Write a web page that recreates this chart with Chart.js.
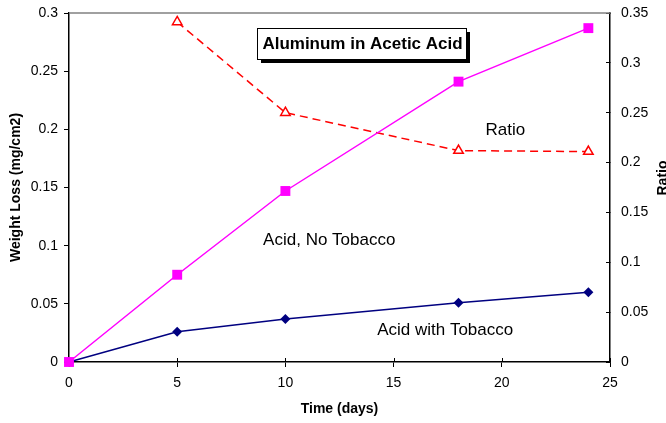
<!DOCTYPE html>
<html>
<head>
<meta charset="utf-8">
<script src="https://cdn.jsdelivr.net/npm/chart.js@4/dist/chart.umd.min.js"></script>
<style>
  html, body { margin: 0; padding: 0; background: #fff; }
  #wrap { width: 666px; height: 423px; }
</style>
</head>
<body>
<div id="wrap"><canvas id="chart" width="666" height="423"></canvas></div>
<script>
const days = [0, 5, 10, 18, 24];
const noTobacco = [0, 0.075, 0.147, 0.241, 0.287];
const withTobacco = [0, 0.026, 0.037, 0.051, 0.060];
const ratio = [null, 0.341, 0.250, 0.212, 0.211];

const chartTitle = 'Aluminum in Acetic Acid';
const ratioAxisTitle = 'Ratio';
// series labels written inside the plot: [text, day, weight loss] (left edge of text)
const seriesNotes = [
    ['Ratio', 19.25, 0.1994],
    ['Acid, No Tobacco', 8.97, 0.1049],
    ['Acid with Tobacco', 14.24, 0.0275]
];

const FONT = "'Liberation Sans', Arial, sans-serif";

function toPoints(values) {
    return days.map((d, i) => ({ x: d, y: values[i] })).filter(p => p.y !== null);
}

const fmt = v => String(+v.toFixed(2));

// fixed box sizes so the plot area sits where the original one does
function fixBox(size) {
    return scale => {
        if (scale.isHorizontal()) scale.height = size;
        else scale.width = size;
        scale.paddingTop = 0;
        scale.paddingBottom = 0;
        scale.paddingLeft = 0;
        scale.paddingRight = 0;
    };
}

const decorations = {
    id: 'decorations',
    beforeDatasetsDraw(chart) {
        const { ctx, chartArea } = chart;
        const x = chart.scales.x;
        ctx.save();
        // grey frame line on top of the plot
        ctx.strokeStyle = '#808080';
        ctx.lineWidth = 1.5;
        ctx.beginPath();
        ctx.moveTo(chartArea.left, chartArea.top);
        ctx.lineTo(chartArea.right, chartArea.top);
        ctx.stroke();
        // x ticks cross the axis: inner half
        ctx.strokeStyle = '#000';
        ctx.lineWidth = 1;
        x.ticks.forEach(t => {
            const px = Math.round(x.getPixelForValue(t.value)) + 0.5;
            ctx.beginPath();
            ctx.moveTo(px, chartArea.bottom);
            ctx.lineTo(px, chartArea.bottom - 4);
            ctx.stroke();
        });
        ctx.restore();
    },
    afterDraw(chart) {
        const { ctx } = chart;
        const x = chart.scales.x;
        const y = chart.scales.y;
        ctx.save();

        // boxed title with drop shadow
        const bx = 257, by = 28, bw = 209, bh = 31;
        ctx.fillStyle = '#000';
        ctx.fillRect(bx + 4, by + 4, bw, bh);
        ctx.fillStyle = '#fff';
        ctx.fillRect(bx, by, bw, bh);
        ctx.strokeStyle = '#000';
        ctx.lineWidth = 1;
        ctx.strokeRect(bx + 0.5, by + 0.5, bw, bh);
        ctx.fillStyle = '#000';
        ctx.font = 'bold 17px ' + FONT;
        ctx.textAlign = 'center';
        ctx.textBaseline = 'middle';
        ctx.fillText(chartTitle, bx + bw / 2 + 1, by + bh / 2 + 1);

        ctx.font = '17px ' + FONT;
        ctx.textAlign = 'left';
        seriesNotes.forEach(n => {
            ctx.fillText(n[0], x.getPixelForValue(n[1]), y.getPixelForValue(n[2]));
        });

        // right axis title, clipped at the edge like the original
        ctx.translate(663, 178);
        ctx.rotate(-Math.PI / 2);
        ctx.font = 'bold 14px ' + FONT;
        ctx.textAlign = 'center';
        ctx.fillText(ratioAxisTitle, 0, 0);
        ctx.restore();
    }
};

new Chart(document.getElementById('chart'), {
    type: 'line',
    data: {
        datasets: [
            {
                label: 'Acid, No Tobacco',
                data: toPoints(noTobacco),
                borderColor: '#FF00FF',
                backgroundColor: '#FF00FF',
                borderWidth: 1.5,
                pointStyle: 'rect',
                pointRadius: 7,
                pointBorderWidth: 0,
                clip: false,
                yAxisID: 'y'
            },
            {
                label: 'Acid with Tobacco',
                data: toPoints(withTobacco),
                borderColor: '#000080',
                backgroundColor: '#000080',
                borderWidth: 1.5,
                pointStyle: 'rectRot',
                pointRadius: 5,
                pointBorderWidth: 0,
                clip: false,
                yAxisID: 'y'
            },
            {
                label: 'Ratio',
                data: toPoints(ratio),
                borderColor: '#FF0000',
                backgroundColor: '#FFFFFF',
                borderWidth: 1.5,
                borderDash: [8, 5],
                pointStyle: 'triangle',
                pointRadius: 5.5,
                pointBorderWidth: 1.5,
                clip: false,
                yAxisID: 'y1'
            }
        ]
    },
    options: {
        responsive: false,
        animation: false,
        layout: { padding: { top: 13, left: 0, right: 0, bottom: 0 } },
        plugins: {
            legend: { display: false },
            tooltip: { enabled: false }
        },
        scales: {
            x: {
                type: 'linear',
                min: 0,
                max: 25,
                ticks: { stepSize: 5, color: '#000', font: { family: FONT, size: 14 }, padding: 8 },
                grid: { drawOnChartArea: false, tickLength: 5, color: '#000' },
                border: { color: '#000', width: 1.5 },
                title: { display: true, text: 'Time (days)', color: '#000', font: { family: FONT, size: 14, weight: 'bold' }, padding: { top: 4, bottom: 5 } },
                afterFit: fixBox(61)
            },
            y: {
                position: 'left',
                min: 0,
                max: 0.3,
                ticks: { stepSize: 0.05, color: '#000', font: { family: FONT, size: 14 }, padding: 6, callback: fmt },
                grid: { drawOnChartArea: false, tickLength: 5, color: '#000' },
                border: { color: '#000', width: 1.5 },
                title: { display: true, text: 'Weight Loss (mg/cm2)', color: '#000', font: { family: FONT, size: 14, weight: 'bold' }, padding: { top: 8, bottom: 0 } },
                afterFit: fixBox(69)
            },
            y1: {
                position: 'right',
                min: 0,
                max: 0.35,
                ticks: { stepSize: 0.05, color: '#000', font: { family: FONT, size: 14 }, padding: 15, callback: fmt },
                grid: { drawOnChartArea: false, tickLength: -4, color: '#000' },
                border: { color: '#000', width: 1.5 },
                afterFit: fixBox(56)
            }
        }
    },
    plugins: [decorations]
});
</script>
</body>
</html>
